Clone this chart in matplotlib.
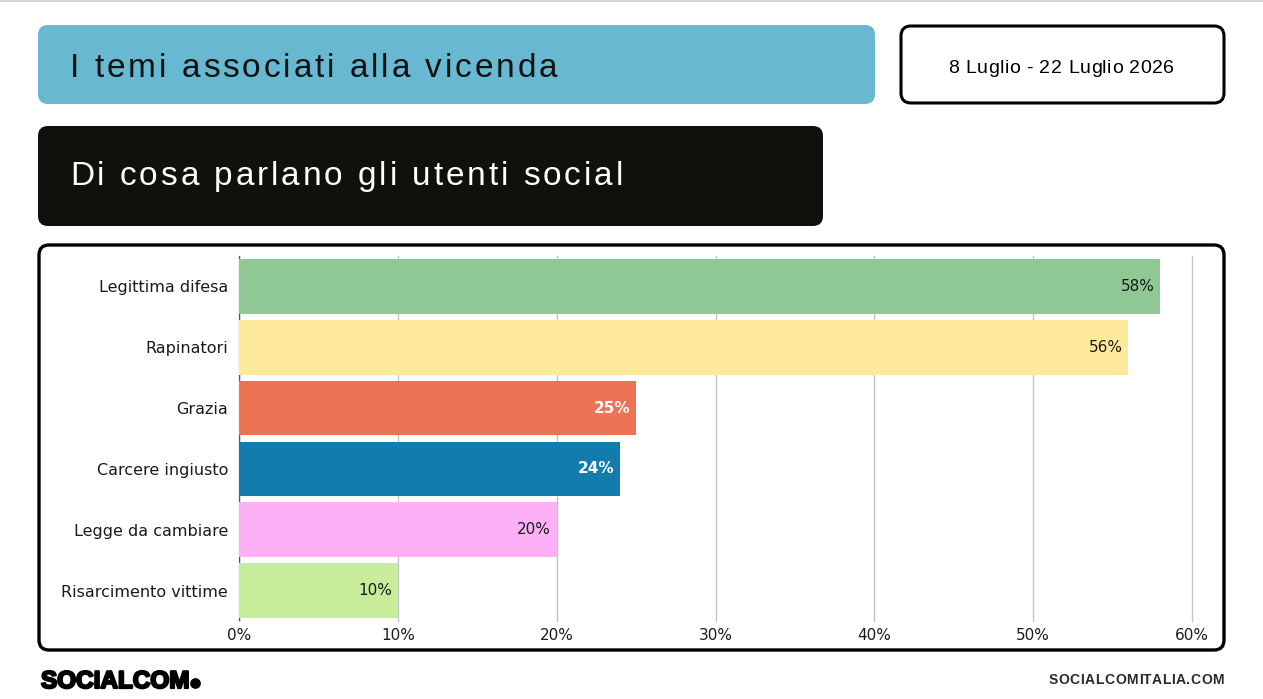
import matplotlib
matplotlib.use("Agg")
import matplotlib.pyplot as plt
import matplotlib.patheffects as pe
from matplotlib.patches import FancyBboxPatch
from matplotlib.font_manager import FontProperties, findfont
from matplotlib.ft2font import FT2Font

try:
    from matplotlib.ft2font import Kerning
    KERN = Kerning.DEFAULT
except ImportError:
    from matplotlib.ft2font import KERNING_DEFAULT as KERN

categories = ["Legittima difesa", "Rapinatori", "Grazia", "Carcere ingiusto",
              "Legge da cambiare", "Risarcimento vittime"]
values = [58, 56, 25, 24, 20, 10]
bar_colors = ["#8fc895", "#feea9a", "#ec7454", "#127dac", "#fdb0f5", "#c8ed9a"]
label_colors = ["#1a1a1a", "#1a1a1a", "white", "white", "#1a1a1a", "#1a1a1a"]
xticks = [0, 10, 20, 30, 40, 50, 60]

title = "I temi associati alla vicenda"
subtitle = "Di cosa parlano gli utenti social"
period = "8 Luglio - 22 Luglio 2026"

W, H = 1263, 699
fig = plt.figure(figsize=(W / 100, H / 100), dpi=100)

# background canvas in pixel coordinates
bg = fig.add_axes([0, 0, 1, 1], zorder=0)
bg.set_xlim(0, W)
bg.set_ylim(H, 0)
bg.axis("off")

bg.plot([0, W], [1, 1], color="#d4d4d4", lw=1.5)


def box(x0, y0, x1, y1, fc, ec="none", lw=0, r=10):
    p = FancyBboxPatch((x0 + r, y0 + r), (x1 - x0) - 2 * r, (y1 - y0) - 2 * r,
                       boxstyle=f"round,pad={r}", fc=fc, ec=ec, lw=lw)
    bg.add_patch(p)


def tracked(x, y, s, size, track, ha="left", weight="normal", **kw):
    # letter-spaced text, x/y in pixels, baseline at y
    fp = FontProperties(family="Liberation Sans", size=size, weight=weight)
    ft = FT2Font(findfont(fp))
    ft.set_size(size, 100)
    adv = []
    for i, c in enumerate(s):
        a = ft.load_char(ord(c)).linearHoriAdvance / 65536
        if i + 1 < len(s):
            a += ft.get_kerning(ft.get_char_index(ord(c)), ft.get_char_index(ord(s[i + 1])), KERN) / 64
        adv.append(a)
    total = sum(adv) + track * (len(s) - 1)
    if ha == "right":
        x -= total
    elif ha == "center":
        x -= total / 2
    for c, a in zip(s, adv):
        bg.text(x, y, c, fontproperties=fp, va="baseline", ha="left", **kw)
        x += a + track


box(38, 25, 875, 104, "#67b8d0")
box(38, 126, 823, 226, "#12100d")
box(901, 26, 1224, 103, "white", ec="black", lw=2.2)
box(39, 245, 1224, 650, "white", ec="black", lw=2.4)

tracked(70, 77, title, 24, 2.9, color="#111111")
tracked(70, 185, subtitle, 24, 2.9, color="white")
tracked(1061, 73, period, 14, 0.5, ha="center", color="black")

bg.text(41, 688, "SOCIALCOM", fontsize=17.5, family="Liberation Sans", weight="bold",
        color="black", va="baseline", ha="left",
        path_effects=[pe.withStroke(linewidth=1.6, foreground="black")])
bg.scatter([195], [683], s=45, color="black")
tracked(1224, 684, "SOCIALCOMITALIA.COM", 10, 0.6, ha="right", weight="bold", color="#2a2a2a")

# chart axes
ax = fig.add_axes([239 / W, 1 - 621 / H, (1192 - 239) / W, (621 - 256) / H], zorder=1)
ax.set_facecolor("none")
ypos = list(range(len(categories)))
ax.barh(ypos, values, height=0.9, color=bar_colors, zorder=2)
for y, v, c in zip(ypos, values, label_colors):
    ax.annotate(f"{v}%", (v, y), xytext=(-4, 0), textcoords="offset points",
                ha="right", va="center", fontsize=11, family="DejaVu Sans", color=c,
                weight="bold" if c == "white" else "normal", zorder=3)

ax.set_ylim(len(categories) - 0.5, -0.5)
ax.set_xlim(0, 60)
ax.set_xticks(xticks)
ax.set_xticklabels([f"{t}%" for t in xticks], fontsize=11, family="DejaVu Sans", color="#1a1a1a")
ax.set_yticks(ypos)
ax.set_yticklabels(categories, fontsize=11.5, family="DejaVu Sans", color="#1a1a1a")
ax.tick_params(axis="both", length=0)
ax.tick_params(axis="y", pad=8)
ax.tick_params(axis="x", pad=5)
ax.grid(axis="x", color="#c4c4c4", lw=1, zorder=0)
for gl in ax.get_xgridlines():
    gl.set_clip_on(False)
ax.axvline(0, color="#555555", lw=1, zorder=1)
ax.set_axisbelow(True)
for s in ax.spines.values():
    s.set_visible(False)

fig.savefig("out.png", dpi=100)
